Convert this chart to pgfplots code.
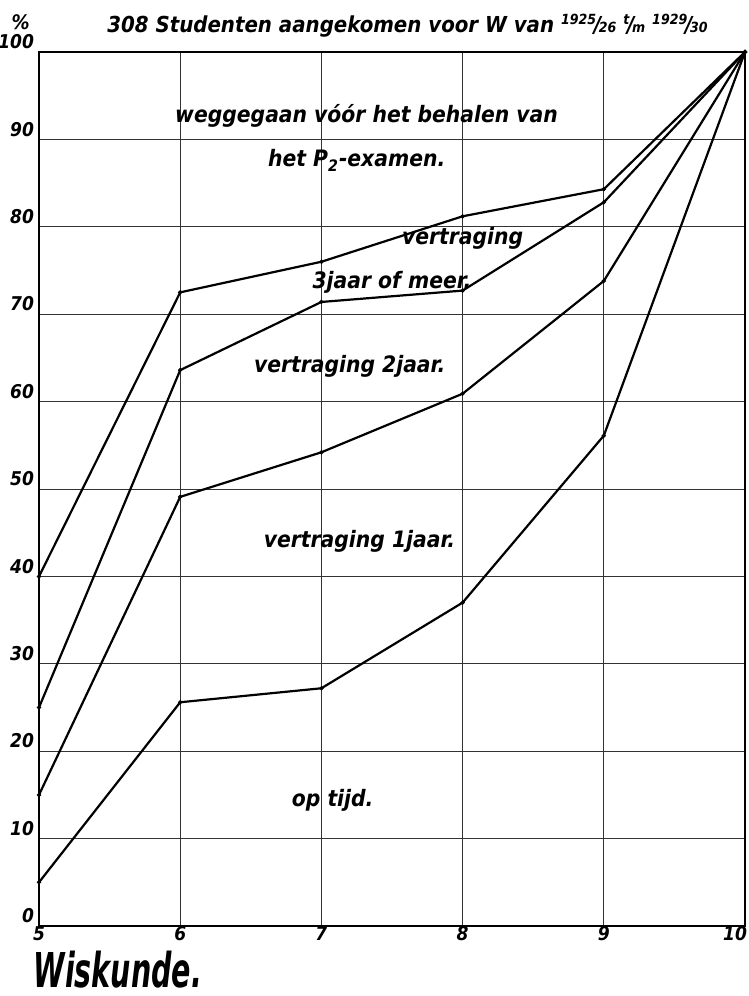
\documentclass[border=0pt]{standalone}
\usepackage{pgfplots}
\pgfplotsset{compat=1.18}
\usepackage{graphicx}
\usepackage{fontspec}
\setmainfont{DejaVu Sans Condensed}
\newcommand{\hand}{\bfseries\itshape}
\newcommand{\fr}[2]{\raisebox{0.7ex}{\fontsize{7}{8}\selectfont #1}\kern-0.1em/\kern-0.1em{\fontsize{7}{8}\selectfont #2}}
\begin{document}
\begin{tikzpicture}[x=1pt,y=1pt]
\useasboundingbox (-19.5,-35) rectangle (355,463);
\begin{axis}[at={(0,0)}, anchor=south west, scale only axis,
  width=353pt, height=437pt,
  xmin=5, xmax=10, ymin=0, ymax=100,
  xtick={5,6,7,8,9,10}, xticklabels={5,6,7,8,9,\makebox[2pt][r]{10}},
  ytick={0,10,...,100},
  grid=major, grid style={black!80, line width=0.45pt},
  axis line style={black, line width=0.9pt},
  tick style={draw=none},
  /pgf/number format/assume math mode=true,
  ticklabel style={font=\hand\fontsize{9.5}{10}\selectfont},
  yticklabel style={anchor=south east, xshift=1pt, yshift=-2pt},
  xticklabel style={anchor=north, yshift=1pt, inner ysep=1pt},
  clip=false]
\addplot[black, line width=1.1pt, mark=o, mark size=0.9pt, mark options={line width=0.4pt, fill=white}]
  coordinates {(5,40) (6,72.5) (7,76) (8,81.2) (9,84.3) (10,100)};
\addplot[black, line width=1.1pt, mark=o, mark size=0.9pt, mark options={line width=0.4pt, fill=white}]
  coordinates {(5,25) (6,63.6) (7,71.4) (8,72.7) (9,82.8) (10,100)};
\addplot[black, line width=1.1pt, mark=o, mark size=0.9pt, mark options={line width=0.4pt, fill=white}]
  coordinates {(5,15) (6,49.1) (7,54.2) (8,60.9) (9,73.8) (10,100)};
\addplot[black, line width=1.1pt, mark=o, mark size=0.9pt, mark options={line width=0.4pt, fill=white}]
  coordinates {(5,5) (6,25.6) (7,27.2) (8,37.0) (9,56.1) (10,100)};
\node[font=\hand\fontsize{11.3}{12}\selectfont] at (axis cs:7.32,92.7) {weggegaan vóór het behalen van};
\node[font=\hand\fontsize{11.3}{12}\selectfont] at (axis cs:7.25,87.6) {het P\textsubscript{2}-examen.};
\node[font=\hand\fontsize{11.3}{12}\selectfont] at (axis cs:8.0,78.7) {vertraging};
\node[font=\hand\fontsize{11.3}{12}\selectfont] at (axis cs:7.5,73.7) {3jaar of meer.};
\node[font=\hand\fontsize{11.3}{12}\selectfont] at (axis cs:7.2,64.0) {vertraging 2jaar.};
\node[font=\hand\fontsize{11.3}{12}\selectfont] at (axis cs:7.27,44.0) {vertraging 1jaar.};
\node[font=\hand\fontsize{11.3}{12}\selectfont] at (axis cs:7.08,14.4) {op tijd.};
\node[font=\hand\fontsize{11}{12}\selectfont] at (axis cs:7.61,103.0) {308 Studenten aangekomen voor W van \fr{1925}{26} \fr{t}{m} \fr{1929}{30}};
\node[font=\hand\fontsize{10}{11}\selectfont] at (axis cs:4.87,103.4) {\%};
\node[font=\hand\fontsize{24}{26}\selectfont, anchor=base west, inner sep=0pt] at (axis cs:4.96,-7.0) {\scalebox{0.66}[1]{Wiskunde.}};
\end{axis}
\end{tikzpicture}
\end{document}
